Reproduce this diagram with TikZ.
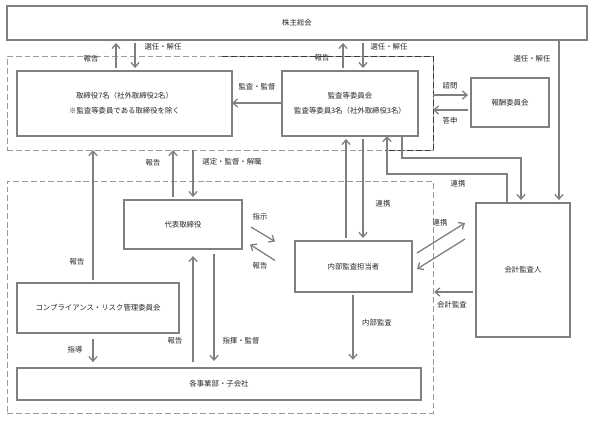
\documentclass[tikz,border=0pt]{standalone}
\usepackage{fontspec}
\setmainfont{Noto Sans CJK JP}
\usetikzlibrary{arrows.meta}

\definecolor{boxgray}{HTML}{7F7F7F}
\definecolor{dashgray}{HTML}{9A9A9A}
\definecolor{darkdash}{HTML}{3A3A3A}
\definecolor{txt}{HTML}{262626}

\tikzset{
    box/.style={draw=boxgray, line width=1.2pt, fill=white, inner sep=0pt, outer sep=0pt,
        align=center, text=txt, font=\fontsize{6.3}{12.8}\selectfont},
    grp/.style={draw=dashgray, line width=0.8pt, dash pattern=on 5pt off 2.5pt,
        inner sep=0pt, outer sep=0pt},
    arr/.style={draw=boxgray, line width=1.1pt, -{Straight Barb[length=4pt,width=7pt]},
        shorten <=2.5pt, shorten >=2.5pt},
    lbl/.style={text=txt, inner sep=1pt, font=\fontsize{6.3}{8}\selectfont},
}

\begin{document}
\begin{tikzpicture}[x=0.03cm, y=-0.03cm]
    \useasboundingbox (0,0) rectangle (592,421);

    \node[grp, minimum width=12.78cm, minimum height=2.82cm] (upper) at (220,103) {};
    \node[grp, minimum width=12.78cm, minimum height=6.96cm] (lower) at (220,297) {};
    \draw[darkdash, line width=0.8pt, dash pattern=on 5pt off 2.5pt]
        (222,0 |- upper.north) -- (upper.north east) -- (upper.south east) -- (385,0 |- upper.south);

    \node[box, minimum width=17.4cm, minimum height=1.02cm] (kabu) at (297,23) {株主総会};
    \node[box, minimum width=6.45cm, minimum height=1.95cm] (tori) at (124.5,103.5)
        {取締役7名（社外取締役2名）\\※監査等委員である取締役を除く};
    \node[box, minimum width=4.08cm, minimum height=1.95cm] (kansa) at (350,103.5)
        {監査等委員会\\監査等委員3名（社外取締役3名）};
    \node[box, minimum width=2.34cm, minimum height=1.47cm] (hoshu) at (510,102.5) {報酬委員会};
    \node[box, minimum width=3.54cm, minimum height=1.47cm] (dai) at (183,224.5) {代表取締役};
    \node[box, minimum width=3.51cm, minimum height=1.53cm] (naibu) at (353.5,266.5) {内部監査担当者};
    \node[box, minimum width=2.82cm, minimum height=4.02cm] (kaikei) at (523,270) {会計監査人};
    \node[box, minimum width=4.86cm, minimum height=1.5cm] (comp) at (98,308)
        {コンプライアンス・リスク管理委員会};
    \node[box, minimum width=12.12cm, minimum height=0.96cm] (jigyo) at (219,384) {各事業部・子会社};

    \draw[arr] (116,0 |- tori.north) -- (116,0 |- kabu.south);
    \draw[arr] (135,0 |- kabu.south) -- (135,0 |- tori.north);
    \draw[arr] (343,0 |- kansa.north) -- (343,0 |- kabu.south);
    \draw[arr] (363,0 |- kabu.south) -- (363,0 |- kansa.north);
    \draw[arr, shorten <=0pt] (559,0 |- kabu.south) -- (559,0 |- kaikei.north);
    \draw[arr, shorten <=0pt, shorten >=0pt] (kansa.west |- 0,103) -- (tori.east |- 0,103);
    \draw[arr, shorten <=0pt] (upper.east |- 0,95) -- (hoshu.west |- 0,95);
    \draw[arr, shorten >=0pt] (hoshu.west |- 0,110) -- (upper.east |- 0,110);

    \draw[arr, shorten >=0pt] (93,0 |- comp.north) -- (93,0 |- upper.south);
    \draw[arr, shorten >=0pt] (173,0 |- dai.north) -- (173,0 |- upper.south);
    \draw[arr, shorten <=0pt] (193,0 |- upper.south) -- (193,0 |- dai.north);

    \draw[arr] (346,0 |- naibu.north) -- (346,0 |- kansa.south);
    \draw[arr] (363,0 |- kansa.south) -- (363,0 |- naibu.north);
    \draw[arr, shorten <=0pt] (402,0 |- kansa.south) |- (521,158) -- (521,0 |- kaikei.north);
    \draw[arr, shorten <=0pt, shorten >=0pt] (507,0 |- kaikei.north) |- (387,174) -- (387,0 |- kansa.south);

    \draw[arr, shorten <=0pt, shorten >=0pt] ([shift={(9,2.5)}]dai.east) -- ([shift={(-20,-25)}]naibu.west);
    \draw[arr, shorten <=0pt, shorten >=0pt] ([shift={(-20,-6)}]naibu.west) -- ([shift={(8,20)}]dai.east);
    \draw[arr, shorten <=0pt, shorten >=0pt] ([shift={(5,-13.5)}]naibu.east) -- ([shift={(-11,-47)}]kaikei.west);
    \draw[arr, shorten <=0pt, shorten >=0pt] ([shift={(-11,-31)}]kaikei.west) -- ([shift={(5,2.5)}]naibu.east);
    \draw[arr, shorten >=1pt] (kaikei.west |- 0,292) -- (lower.east |- 0,292);

    \draw[arr, shorten >=7pt] (353,0 |- naibu.south) -- (353,0 |- jigyo.north);
    \draw[arr, shorten <=5pt, shorten >=6pt] (193,0 |- jigyo.north) -- (193,0 |- dai.south);
    \draw[arr, shorten <=4pt, shorten >=6pt] (214,0 |- dai.south) -- (214,0 |- jigyo.north);
    \draw[arr, shorten <=5pt, shorten >=5pt] (93,0 |- comp.south) -- (93,0 |- jigyo.north);

    \node[lbl] (r1) at (91,59) {報告};
    \node[lbl] (s1) at (163,47) {選任・解任};
    \node[lbl] (r2) at (322,58) {報告};
    \node[lbl] (s2) at (389,47) {選任・解任};
    \node[lbl] (s3) at (532,59) {選任・解任};
    \node[lbl] (kk) at (257,87) {監査・監督};
    \node[lbl] (shimon) at (450,86) {諮問};
    \node[lbl] (toshin) at (450,121) {答申};
    \node[lbl] (r3) at (153,163) {報告};
    \node[lbl] (sentei) at (232,162) {選定・監督・解職};
    \node[lbl] (r4) at (77,262) {報告};
    \node[lbl] (shiji) at (260,217) {指示};
    \node[lbl] (r5) at (260,266) {報告};
    \node[lbl] (rk1) at (383,204) {連携};
    \node[lbl] (rk2) at (458,184) {連携};
    \node[lbl] (rk3) at (440,223) {連携};
    \node[lbl] (kaikeik) at (452,305) {会計監査};
    \node[lbl] (naibuk) at (377,323) {内部監査};
    \node[lbl] (r6) at (175,341) {報告};
    \node[lbl] (shiki) at (241,341) {指揮・監督};
    \node[lbl] (shido) at (75,350) {指導};
\end{tikzpicture}
\end{document}
